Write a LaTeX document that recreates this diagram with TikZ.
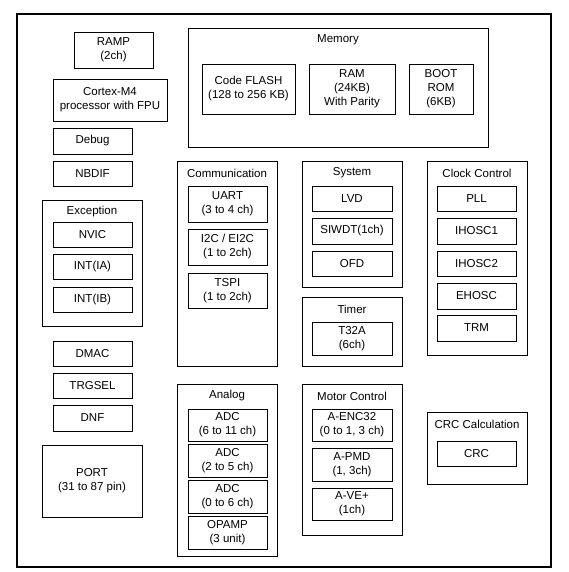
\documentclass[tikz,border=0pt]{standalone}
\usepackage{fontspec}
\setmainfont{Liberation Sans}
\usetikzlibrary{positioning}

\begin{document}
\begin{tikzpicture}[x=1pt,y=-1pt]
\tikzstyle{every node}=[font=\fontsize{11.5}{14}\selectfont,align=center,inner sep=0pt]
\tikzstyle{blk}=[draw,line width=0.9pt,minimum width=79pt]
\tikzstyle{grp}=[draw,line width=0.9pt,minimum width=100pt]
\tikzstyle{ttl}=[anchor=center]
\useasboundingbox (0,0) rectangle (568,572);
\draw[line width=1.8pt] (17,14) rectangle (551,567);
% left column
\node[blk,minimum height=36pt] (ramp) at (113.5,50) {RAMP\\(2ch)};
\node[blk,minimum width=114pt,minimum height=42pt] (cpu) at (110,100) {Cortex-M4\\processor with FPU};
\node[blk,minimum height=26pt] (debug) at (92.5,141) {Debug};
\node[blk,minimum height=25pt] (nbdif) at (92.5,173.5) {NBDIF};
\node[grp,minimum height=126pt] (exc) at (92,263) {};
\node[ttl] (exct) at (92,212) {Exception};
\node[blk,minimum height=25pt] (nvic) at (92.5,234.5) {NVIC};
\node[blk,minimum height=25pt] (intia) at (92.5,266.5) {INT(IA)};
\node[blk,minimum height=25pt] (intib) at (92.5,299.5) {INT(IB)};
\node[blk,minimum height=25pt] (dmac) at (92.5,353.5) {DMAC};
\node[blk,minimum height=25pt] (trgsel) at (92.5,385.5) {TRGSEL};
\node[blk,minimum height=26pt] (dnf) at (92.5,418) {DNF};
\node[grp,minimum height=72pt] (port) at (92,481) {PORT\\(31 to 87 pin)};
% memory
\node[grp,minimum width=300pt,minimum height=119pt] (mem) at (338,87.5) {};
\node[ttl] (memt) at (338,40) {Memory};
\node[blk,minimum width=93pt,minimum height=50pt] (flash) at (248.5,89) {Code FLASH\\(128 to 256 KB)};
\node[blk,minimum width=86pt,minimum height=50pt] (ram) at (352,89) {RAM\\(24KB)\\With Parity};
\node[blk,minimum width=64pt,minimum height=50pt] (boot) at (441,89) {BOOT\\ROM\\(6KB)};
% communication
\node[grp,minimum height=205pt] (com) at (227,263.5) {};
\node[ttl] (comt) at (227,173) {Communication};
\node[blk,minimum height=36pt] (uart) at (227.5,204) {UART\\(3 to 4 ch)};
\node[blk,minimum height=36pt] (i2c) at (227.5,247) {I2C / EI2C\\(1 to 2ch)};
\node[blk,minimum height=35pt] (tspi) at (227.5,290.5) {TSPI\\(1 to 2ch)};
% analog
\node[grp,minimum height=172pt] (ana) at (227,470) {};
\node[ttl] (anat) at (227,396) {Analog};
\node[blk,minimum height=32pt] (adca) at (227.5,425) {ADC\\(6 to 11 ch)};
\node[blk,minimum height=33pt] (adcb) at (227.5,460.5) {ADC\\(2 to 5 ch)};
\node[blk,minimum height=33pt] (adcc) at (227.5,496.5) {ADC\\(0 to 6 ch)};
\node[blk,minimum height=33pt] (opamp) at (227.5,532.5) {OPAMP\\(3 unit)};
% system
\node[grp,minimum height=126pt] (sys) at (352,224) {};
\node[ttl] (syst) at (352,173) {System};
\node[blk,minimum width=80pt,minimum height=25pt] (lvd) at (352,198.5) {LVD};
\node[blk,minimum width=80pt,minimum height=26pt] (siwdt) at (352,231) {SIWDT(1ch)};
\node[blk,minimum width=80pt,minimum height=25pt] (ofd) at (352,263.5) {OFD};
% timer
\node[grp,minimum height=69pt] (tmr) at (352,331.5) {};
\node[ttl] (tmrt) at (352,309) {Timer};
\node[blk,minimum width=80pt,minimum height=33pt] (t32a) at (352,338.5) {T32A\\(6ch)};
% motor control
\node[grp,minimum height=151pt] (mot) at (352,459.5) {};
\node[ttl] (mott) at (352,396) {Motor Control};
\node[blk,minimum width=80pt,minimum height=32pt] (enc) at (352,425) {A-ENC32\\(0 to 1, 3 ch)};
\node[blk,minimum width=80pt,minimum height=33pt] (pmd) at (352,464.5) {A-PMD\\(1, 3ch)};
\node[blk,minimum width=80pt,minimum height=32pt] (ve) at (352,504) {A-VE+\\(1ch)};
% clock control
\node[grp,minimum height=194pt] (clk) at (477,258) {};
\node[ttl] (clkt) at (477,173) {Clock Control};
\node[blk,minimum height=25pt] (pll) at (476.5,198.5) {PLL};
\node[blk,minimum height=26pt] (ihosca) at (476.5,231) {IHOSC1};
\node[blk,minimum height=25pt] (ihoscb) at (476.5,263.5) {IHOSC2};
\node[blk,minimum height=26pt] (ehosc) at (476.5,296) {EHOSC};
\node[blk,minimum height=26pt] (trm) at (476.5,328) {TRM};
% crc
\node[grp,minimum height=72pt] (crcg) at (477,448) {};
\node[ttl] (crct) at (477,424) {CRC Calculation};
\node[blk,minimum height=25pt] (crc) at (476.5,453.5) {CRC};
\end{tikzpicture}
\end{document}
